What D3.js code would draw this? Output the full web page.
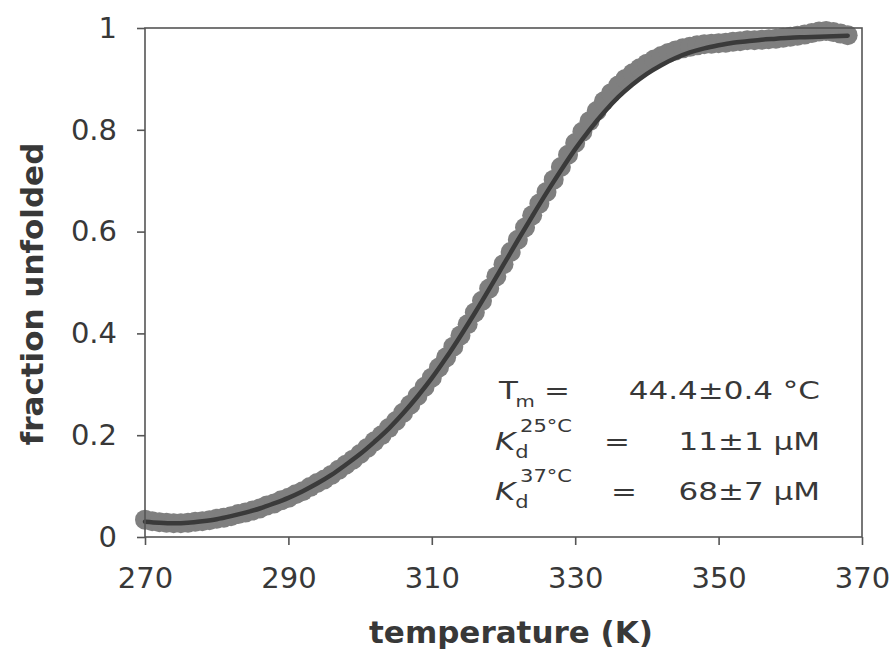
<!DOCTYPE html>
<html>
<head>
<meta charset="utf-8">
<script src="https://cdn.jsdelivr.net/npm/d3@7"></script>
<style>
  html, body { margin: 0; padding: 0; background: #fff; }
  svg { display: block; }
</style>
</head>
<body>
<svg id="chart" width="896" height="650"></svg>
<script>
// Thermal unfolding curve: measured fraction unfolded vs temperature, with fitted curve.
const temperature = [
  270,271,272,273,274,275,276,277,278,279,280,281,282,283,284,285,286,287,288,289,
  290,291,292,293,294,295,296,297,298,299,300,301,302,303,304,305,306,307,308,309,
  310,311,312,313,314,315,316,317,318,319,320,321,322,323,324,325,326,327,328,329,
  330,331,332,333,334,335,336,337,338,339,340,341,342,343,344,345,346,347,348,349,
  350,351,352,353,354,355,356,357,358,359,360,361,362,363,364,365,366,367,368
];
const fractionUnfolded = [
  0.034,0.031,0.029,0.028,0.027,0.027,0.028,0.030,0.031,0.033,0.036,0.038,0.041,0.045,0.048,0.052,0.056,0.062,0.066,0.072,
  0.077,0.084,0.090,0.098,0.106,0.113,0.122,0.132,0.142,0.152,0.163,0.175,0.188,0.200,0.214,0.228,0.244,0.260,0.277,0.295,
  0.313,0.333,0.353,0.374,0.396,0.418,0.441,0.464,0.488,0.512,0.536,0.560,0.584,0.608,0.632,0.655,0.678,0.702,0.727,0.751,
  0.774,0.796,0.817,0.837,0.856,0.872,0.887,0.900,0.911,0.921,0.930,0.938,0.945,0.951,0.956,0.960,0.963,0.966,0.968,0.969,
  0.970,0.971,0.973,0.974,0.976,0.976,0.977,0.978,0.979,0.981,0.983,0.985,0.987,0.990,0.993,0.994,0.992,0.989,0.986
];
const fitTemperature = [
  270,272,274,276,278,280,282,284,286,288,290,292,294,296,298,300,302,304,306,308,
  310,312,314,316,318,320,322,324,326,328,330,332,334,336,338,340,342,344,346,348,
  350,352,354,356,358,360,362,364,366,368
];
const fitFraction = [
  0.030,0.028,0.027,0.028,0.031,0.035,0.041,0.048,0.056,0.066,0.077,0.090,0.105,0.122,0.142,0.163,0.187,0.213,0.243,0.276,
  0.312,0.352,0.395,0.440,0.487,0.535,0.583,0.630,0.676,0.720,0.762,0.800,0.834,0.864,0.889,0.910,0.927,0.941,0.952,0.960,
  0.966,0.971,0.974,0.977,0.979,0.981,0.982,0.983,0.984,0.985
];
const xTicks = [270, 290, 310, 330, 350, 370];
const yTicks = [0, 0.2, 0.4, 0.6, 0.8, 1];
const yTickLabels = ["0", "0.2", "0.4", "0.6", "0.8", "1"];

const svg = d3.select("#chart");
const plotLeft = 145, plotRight = 862, plotTop = 28, plotBottom = 537;

const x = d3.scaleLinear().domain([270, 370]).range([plotLeft, plotRight]);
const y = d3.scaleLinear().domain([0, 1]).range([plotBottom, plotTop]);

const font = "'DejaVu Sans', Verdana, sans-serif";
const ink = "#383838";

// measured points
const points = temperature.map((t, i) => [t, fractionUnfolded[i]]);
svg.append("g")
  .selectAll("circle")
  .data(points)
  .join("circle")
  .attr("cx", d => x(d[0]))
  .attr("cy", d => y(d[1]))
  .attr("r", 10)
  .attr("fill", "#7f7f7f");

// fitted curve
const fit = fitTemperature.map((t, i) => [t, fitFraction[i]]);
svg.append("path")
  .datum(fit)
  .attr("fill", "none")
  .attr("stroke", "#3a3a3a")
  .attr("stroke-width", 4.5)
  .attr("stroke-linecap", "round")
  .attr("d", d3.line().x(d => x(d[0])).y(d => y(d[1])).curve(d3.curveMonotoneX));

// plot frame
svg.append("rect")
  .attr("x", plotLeft).attr("y", plotTop)
  .attr("width", plotRight - plotLeft).attr("height", plotBottom - plotTop)
  .attr("fill", "none")
  .attr("stroke", "#555")
  .attr("stroke-width", 1.6);

// axes
const xAxis = svg.append("g")
  .attr("transform", `translate(0,${plotBottom})`)
  .call(d3.axisBottom(x).tickValues(xTicks).tickSize(8).tickPadding(22).tickFormat(d3.format("d")));
const yAxis = svg.append("g")
  .attr("transform", `translate(${plotLeft},0)`)
  .call(d3.axisLeft(y).tickValues(yTicks).tickSize(8).tickPadding(20)
    .tickFormat((d, i) => yTickLabels[i]));

[xAxis, yAxis].forEach(g => {
  g.select(".domain").remove();
  g.selectAll(".tick line").attr("stroke", "#555").attr("stroke-width", 1.6);
  g.selectAll(".tick text")
    .attr("fill", ink)
    .style("font-family", font)
    .style("font-size", "29px");
});

// axis titles
svg.append("text")
  .attr("x", 511).attr("y", 643)
  .attr("text-anchor", "middle")
  .attr("fill", ink)
  .style("font-family", font)
  .style("font-size", "31px")
  .style("font-weight", "bold")
  .text("temperature (K)");

svg.append("text")
  .attr("transform", "translate(43,294) rotate(-90)")
  .attr("text-anchor", "middle")
  .attr("fill", ink)
  .style("font-family", font)
  .style("font-size", "31px")
  .style("font-weight", "bold")
  .text("fraction unfolded");

// fit results (wide-set lettering)
const stretch = 1.24;
const ann = svg.append("g")
  .attr("fill", ink)
  .style("font-family", font)
  .style("font-size", "25px");

const rows = [
  { sym: "T", sub: "m", sup: null, eqX: 544, value: "44.4±0.4 °C", base: 399, italic: false },
  { sym: "K", sub: "d", sup: "25°C", eqX: 604, value: "11±1 μM", base: 450, italic: true },
  { sym: "K", sub: "d", sup: "37°C", eqX: 611, value: "68±7 μM", base: 500, italic: true }
];

const place = (px, py) => `translate(${px},${py}) scale(${stretch},1)`;

rows.forEach(r => {
  const t = ann.append("text").attr("transform", place(r.italic ? 495 : 499, r.base));
  t.append("tspan").style("font-style", r.italic ? "italic" : "normal").text(r.sym);
  if (r.sup) {
    t.append("tspan").attr("dy", 8).style("font-size", "17px").text(r.sub);
    t.append("tspan").attr("dx", -7).attr("dy", -26).style("font-size", "17px").text(r.sup);
  } else {
    t.append("tspan").attr("dx", -2).attr("dy", 8).style("font-size", "16px").text(r.sub);
  }
  ann.append("text").attr("transform", place(r.eqX, r.base)).text("=");
  ann.append("text").attr("transform", place(820, r.base)).attr("text-anchor", "end").text(r.value);
});
</script>
</body>
</html>
